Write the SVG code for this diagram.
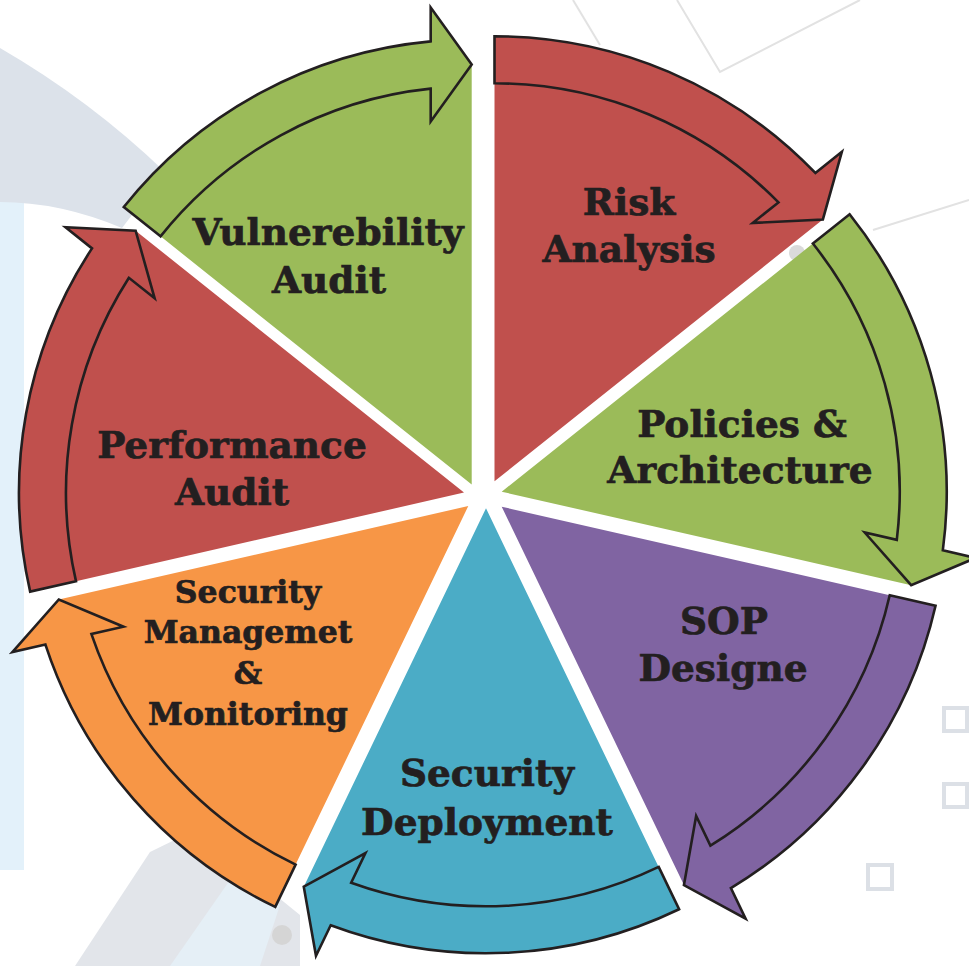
<svg xmlns="http://www.w3.org/2000/svg" xmlns:xlink="http://www.w3.org/1999/xlink" width="969" height="966" viewBox="0 0 969 966">
  <style>
    .lbl { font-family: "DejaVu Serif", "Liberation Serif", serif; font-weight: bold; font-size: 37.5px; fill: #231F20; stroke: #231F20; stroke-width: 0.7; text-anchor: middle; }
    .sm { font-size: 31.5px; }
    .red { fill: #C0504D; }
    .green { fill: #9BBB59; }
    .purple { fill: #8064A2; }
    .teal { fill: #4BACC6; }
    .orange { fill: #F79646; }
    .arrow { stroke: #231F20; stroke-width: 2.6; stroke-linejoin: miter; }
    .bgline { fill: none; stroke: #E2E2E2; stroke-width: 2; }
    .bgsq { fill: none; stroke: #DCE0E6; stroke-width: 4; }
  </style>
  <defs>
    <path id="wedge" d="M0,0 L358.59,-172.68 A398,398 0 0,1 374.48,134.83 L344.84,120.56 L378.41,182.23 Z"/>
    <path id="arrowShape" d="M358.59,-172.68 L400.93,-193.08 A445,445 0 0,1 417.01,155.31 L447.55,170.02 L378.41,182.23 L344.84,120.56 L374.48,134.83 A398,398 0 0,0 358.59,-172.68 Z"/>
  </defs>

  <g id="background">
    <rect x="0" y="0" width="969" height="966" fill="#FFFFFF"/>
    <path d="M0,190 L24,190 L24,870 L0,870 Z" fill="#E3F1FA"/>
    <path d="M0,48 Q90,100 165,172 L122,228 Q60,202 0,202 Z" fill="#DCE2EA"/>
    <path d="M75,966 L150,852 L195,830 L300,915 L300,966 Z" fill="#E2E5EA"/>
    <path d="M170,966 L230,880 L280,905 L260,966 Z" fill="#E5EFF6"/>
    <path class="bgline" d="M677,0 L720,72 L860,0"/>
    <path class="bgline" d="M873,230 L969,200"/>
    <path class="bgline" d="M573,0 L600,45"/>
    <rect class="bgsq" x="944" y="708" width="23" height="23"/>
    <rect class="bgsq" x="944" y="784" width="23" height="23"/>
    <rect class="bgsq" x="868" y="865" width="24" height="24"/>
    <circle cx="797" cy="253" r="8" fill="#DADADA"/>
    <circle cx="282" cy="935" r="10" fill="#D5D5D5"/>
  </g>

  <g id="risk-analysis">
    <use xlink:href="#wedge" class="red" transform="translate(494.5,481.3) rotate(-64.286)"/>
    <text class="lbl" x="629" y="215">Risk</text>
    <text class="lbl" x="629" y="262">Analysis</text>
  </g>
  <g id="policies-architecture">
    <use xlink:href="#wedge" class="green" transform="translate(501.7,491.7) rotate(-12.857)"/>
    <text class="lbl" x="742" y="437">Policies &amp;</text>
    <text class="lbl" x="740" y="483">Architecture</text>
  </g>
  <g id="sop-designe">
    <use xlink:href="#wedge" class="purple" transform="translate(501.7,506.7) rotate(38.571)"/>
    <text class="lbl" x="724" y="634">SOP</text>
    <text class="lbl" x="723" y="681">Designe</text>
  </g>
  <g id="security-deployment">
    <use xlink:href="#wedge" class="teal" transform="translate(486,508.3) rotate(90)"/>
    <text class="lbl" x="487" y="786">Security</text>
    <text class="lbl" x="487" y="835">Deployment</text>
  </g>
  <g id="security-management-monitoring">
    <use xlink:href="#wedge" class="orange" transform="translate(468.3,506) rotate(141.429)"/>
    <text class="lbl sm" x="248" y="603">Security</text>
    <text class="lbl sm" x="248" y="643">Managemet</text>
    <text class="lbl sm" x="248" y="684">&amp;</text>
    <text class="lbl sm" x="248" y="725">Monitoring</text>
  </g>
  <g id="performance-audit">
    <use xlink:href="#wedge" class="red" transform="translate(464,492.6) rotate(192.857)"/>
    <text class="lbl" x="232" y="458">Performance</text>
    <text class="lbl" x="232" y="505">Audit</text>
  </g>
  <g id="vulnerebility-audit">
    <use xlink:href="#wedge" class="green" transform="translate(471.7,484.5) rotate(244.286)"/>
    <text class="lbl" x="328" y="245">Vulnerebility</text>
    <text class="lbl" x="329" y="293">Audit</text>
  </g>

  <g id="connectors">
    <use xlink:href="#arrowShape" class="arrow red" transform="translate(494.5,481.3) rotate(-64.286)"/>
    <use xlink:href="#arrowShape" class="arrow green" transform="translate(501.7,491.7) rotate(-12.857)"/>
    <use xlink:href="#arrowShape" class="arrow purple" transform="translate(501.7,506.7) rotate(38.571)"/>
    <use xlink:href="#arrowShape" class="arrow teal" transform="translate(486,508.3) rotate(90)"/>
    <use xlink:href="#arrowShape" class="arrow orange" transform="translate(468.3,506) rotate(141.429)"/>
    <use xlink:href="#arrowShape" class="arrow red" transform="translate(464,492.6) rotate(192.857)"/>
    <use xlink:href="#arrowShape" class="arrow green" transform="translate(471.7,484.5) rotate(244.286)"/>
  </g>
</svg>
